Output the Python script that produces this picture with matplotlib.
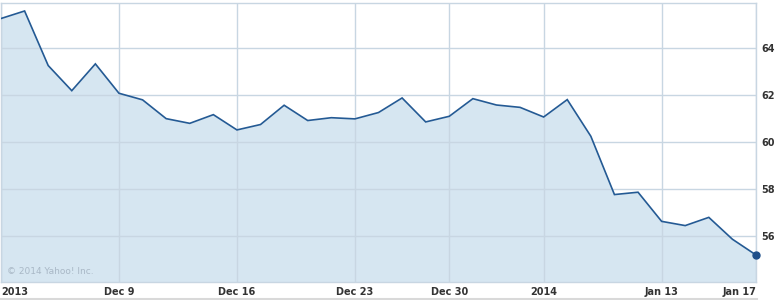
import matplotlib
matplotlib.use("Agg")
import matplotlib.pyplot as plt
from matplotlib.lines import Line2D

# Trading days Dec 2, 2013 .. Jan 17, 2014 (index positions)
prices = [65.25, 65.57, 63.25, 62.18, 63.32, 62.07, 61.79, 60.99, 60.79, 61.16,
          60.51, 60.74, 61.56, 60.91, 61.03, 60.98, 61.25, 61.87, 60.85, 61.09,
          61.84, 61.57, 61.47, 61.06, 61.80, 60.24, 57.76, 57.86, 56.62, 56.44,
          56.79, 55.86, 55.19]
xtick_pos = [0, 5, 10, 15, 19, 23, 28, 32]
xtick_labels = ["2013", "Dec 9", "Dec 16", "Dec 23", "Dec 30", "2014", "Jan 13", "Jan 17"]
ytick_vals = [56, 58, 60, 62, 64]

W, H = 776, 300
fig = plt.figure(figsize=(W / 100, H / 100), dpi=100)
fig.patch.set_facecolor("white")
x0, x1, y0, y1 = 1, 756, 3, 282
ax = fig.add_axes([x0 / W, (H - y1) / H, (x1 - x0) / W, (y1 - y0) / H])

xs = list(range(len(prices)))
ymin, ymax = 54.04, 65.91
ax.fill_between(xs, prices, ymin, color="#d6e6f1", zorder=1, linewidth=0)
ax.plot(xs, prices, color="#245a94", linewidth=1.2, zorder=3, solid_joinstyle="miter")
ax.plot([xs[-1]], [prices[-1]], "o", color="#1f4f8a", markersize=5, zorder=4, clip_on=False)

ax.set_xlim(0, len(prices) - 1)
ax.set_ylim(ymin, ymax)

grid_c = "#c8d6e2"
for p in xtick_pos:
    ax.axvline(p, color=grid_c, linewidth=1, zorder=2)
for v in ytick_vals:
    ax.axhline(v, color=grid_c, linewidth=1, zorder=2)

for s in ["top", "right", "left", "bottom"]:
    ax.spines[s].set_color(grid_c)
    ax.spines[s].set_linewidth(1)

ax.set_xticks([])
ax.yaxis.tick_right()
ax.set_yticks(ytick_vals)
ax.set_yticklabels([str(v) for v in ytick_vals], fontsize=7, fontweight="bold", color="#333333")
ax.tick_params(axis="y", length=0, pad=4)

for p, lab in zip(xtick_pos, xtick_labels):
    ha = "center"
    if p == xtick_pos[0]:
        ha = "left"
    elif p == xtick_pos[-1]:
        ha = "right"
    ax.text(p, -0.018, lab, transform=ax.get_xaxis_transform(), ha=ha, va="top",
            fontsize=7, fontweight="bold", color="#333333")

ax.text(6 / (x1 - x0), 0.02, "\u00a9 2014 Yahoo! Inc.", transform=ax.transAxes,
        fontsize=6.5, color="#a9b8c6", ha="left", va="bottom", zorder=5)

fig.add_artist(Line2D([0, 757 / W], [1.5 / H, 1.5 / H], color="#d9d9d9", linewidth=1.5))

fig.savefig("out.png", dpi=100)
